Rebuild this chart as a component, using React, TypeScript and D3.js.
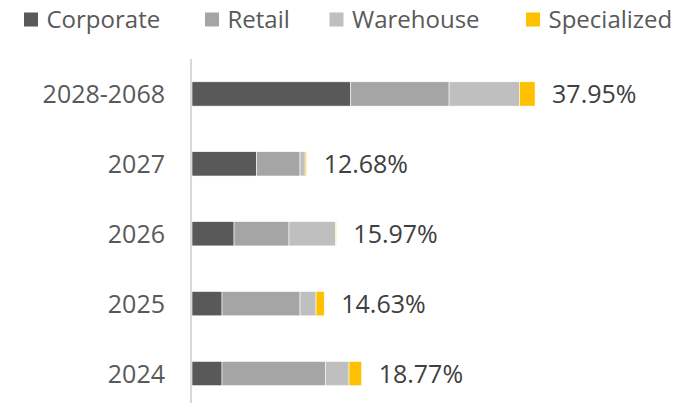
import React from "react";
import * as d3 from "d3";

const categories = ["2028-2068", "2027", "2026", "2025", "2024"];
const seriesNames = ["Corporate", "Retail", "Warehouse", "Specialized"];
const corporate = [17.56, 7.16, 4.65, 3.32, 3.32];
const retail = [10.88, 4.79, 6.08, 8.63, 11.43];
const warehouse = [7.78, 0.57, 5.16, 1.77, 2.62];
const specialized = [1.73, 0.16, 0.08, 0.91, 1.4];
const colors = ["#595959", "#a5a5a5", "#bfbfbf", "#ffc000"];
const legendX = [24, 205, 329.5, 526];

const W = 691;
const H = 403;
const FONT = "'Open Sans', 'Noto Sans', sans-serif";

export default function App() {
  const rows = categories.map((c, i) => ({
    cat: c,
    Corporate: corporate[i],
    Retail: retail[i],
    Warehouse: warehouse[i],
    Specialized: specialized[i],
  }));
  const stacked = d3.stack<any>().keys(seriesNames)(rows);
  const x = d3.scaleLinear().domain([0, 40]).range([192, 192 + 361.6]);
  const y = d3
    .scaleBand<string>()
    .domain(categories)
    .range([59, 408.5])
    .paddingInner(0.652)
    .paddingOuter(0.326);
  const bh = y.bandwidth();

  return (
    <svg
      width={W}
      height={H}
      style={{ position: "absolute", left: 0, top: 0, background: "#fff" }}
    >
      {/* legend */}
      {seriesNames.map((s, i) => (
        <g key={s}>
          <rect x={legendX[i]} y={12.5} width={14} height={14} fill={colors[i]} />
          <text
            x={legendX[i] + 22.5}
            y={28}
            fontFamily={FONT}
            fontSize={24}
            fill="#595959"
          >
            {s}
          </text>
        </g>
      ))}
      {/* bars */}
      {stacked.map((layer, li) => (
        <g key={layer.key}>
          {layer.map((d, i) => (
            <rect
              key={i}
              x={x(d[0])}
              y={y(categories[i])}
              width={Math.max(0, x(d[1]) - x(d[0]))}
              height={bh}
              fill={colors[li]}
              stroke="#ffffff"
              strokeWidth={0.6}
            />
          ))}
        </g>
      ))}
      {/* axis */}
      <line x1={191} x2={191} y1={59} y2={H} stroke="#d9d9d9" strokeWidth={2} />
      {/* category labels */}
      {categories.map((c) => (
        <text
          key={c}
          x={165}
          y={(y(c) as number) + bh / 2 + 9}
          textAnchor="end"
          fontFamily={FONT}
          fontSize={25}
          fill="#595959"
        >
          {c}
        </text>
      ))}
      {/* total labels */}
      {rows.map((r, i) => {
        const total = corporate[i] + retail[i] + warehouse[i] + specialized[i];
        return (
          <text
            key={r.cat}
            x={x(total) + 17}
            y={(y(r.cat) as number) + bh / 2 + 9}
            fontFamily={FONT}
            fontSize={25}
            fill="#404040"
          >
            {total.toFixed(2) + "%"}
          </text>
        );
      })}
    </svg>
  );
}
